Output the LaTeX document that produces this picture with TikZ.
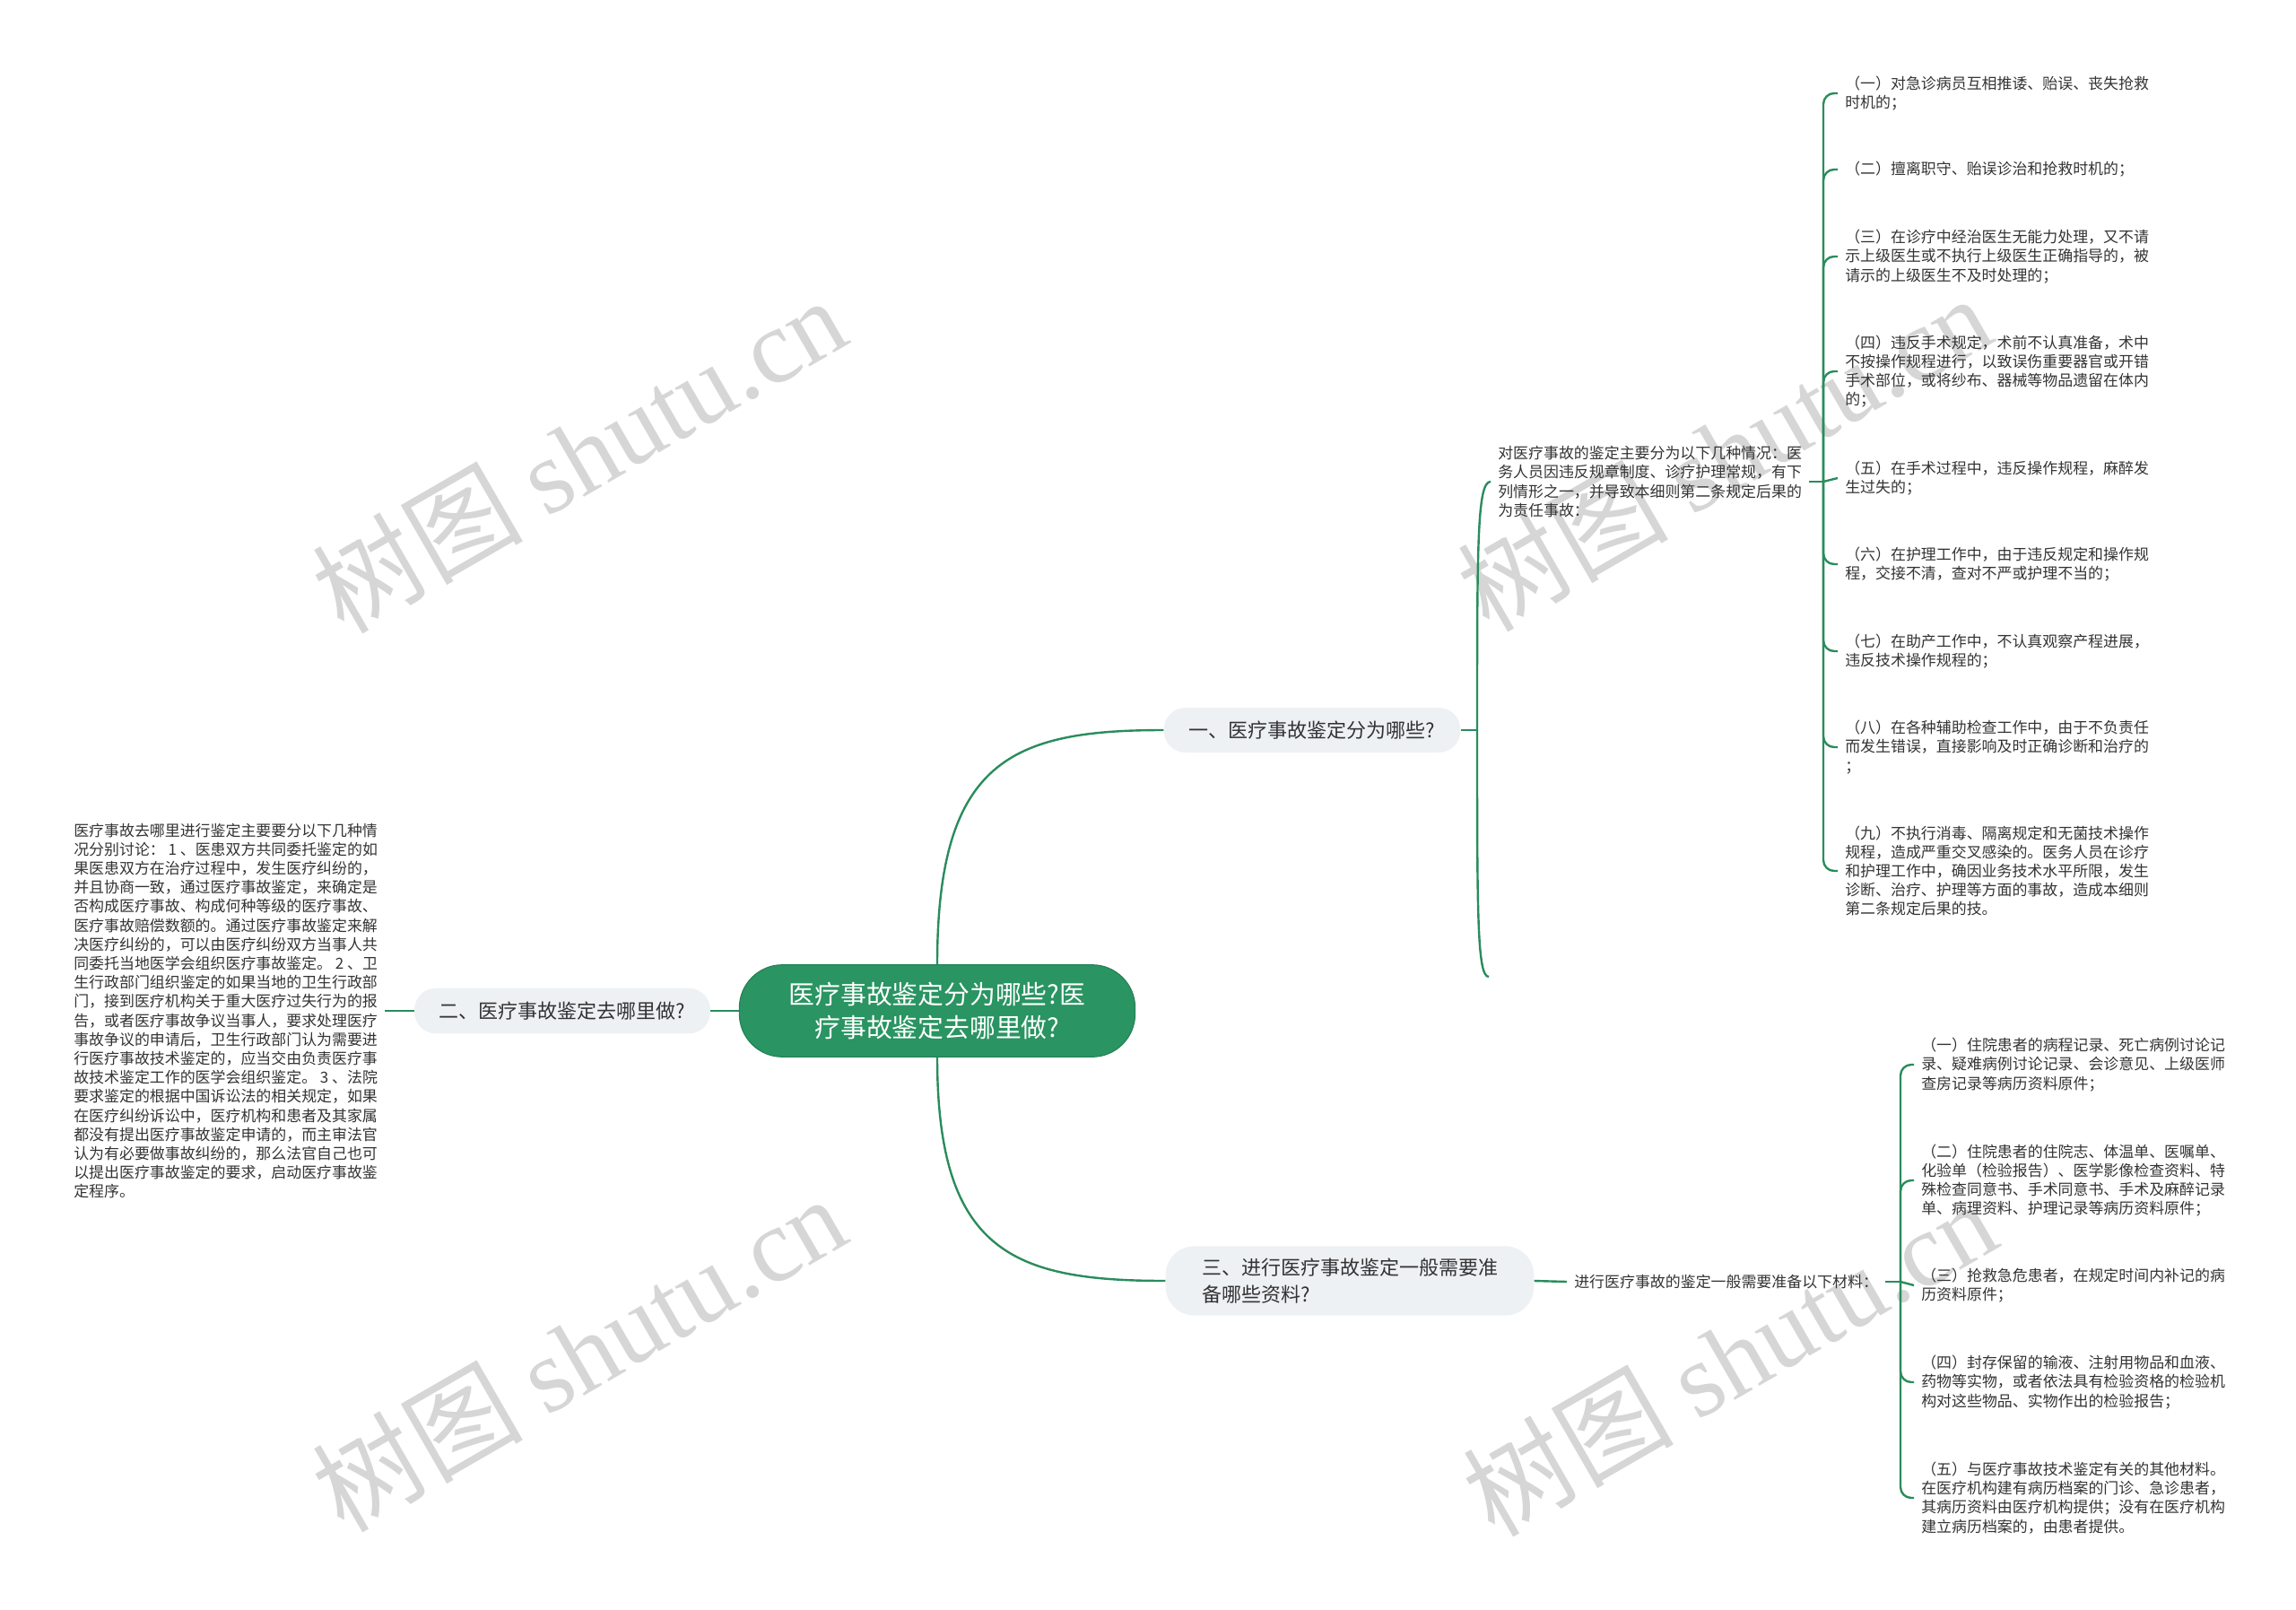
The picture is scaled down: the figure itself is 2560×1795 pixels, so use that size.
\documentclass[tikz,border=0pt]{standalone}
\usepackage{fontspec}
\setmainfont{Noto Sans CJK SC}
\newfontfamily\wmserif{Liberation Serif}
\usetikzlibrary{calc}
\definecolor{lgreen}{RGB}{42,140,92}
\definecolor{cfill}{RGB}{42,148,98}
\definecolor{cborder}{RGB}{36,128,84}
\definecolor{bfill}{RGB}{238,241,244}
\definecolor{txt}{RGB}{51,51,51}
\definecolor{wmgray}{RGB}{214,214,214}
\tikzset{
  conn/.style={draw=lgreen, line width=1.8pt},
  leaf/.style={font=\fontsize{12.7}{15.9}\selectfont, align=left, inner xsep=6pt, inner ysep=0pt, text=txt, anchor=west},
  branch/.style={fill=bfill, draw=none, font=\fontsize{16.5}{22}\selectfont, text=txt, align=left, inner sep=0pt},
  root/.style={fill=cfill, draw=cborder, line width=0.8pt, font=\fontsize{21.6}{28}\selectfont, text=white, align=center, inner sep=0pt, rounded corners=36pt, minimum width=331pt, minimum height=77pt},
  wm/.style={text=wmgray, font=\fontsize{88}{96}\selectfont, rotate=30, inner sep=0pt}
}
\begin{document}
\begin{tikzpicture}[x=0.75pt, y=-0.75pt]
\useasboundingbox (0,0) rectangle (2560,1795);
% watermarks
\node[wm] (w1) at (645,506) {树图 {\wmserif shutu.cn}};
\node[wm] (w2) at (645,1508) {树图 {\wmserif shutu.cn}};
\node[wm] (w3) at (1922,504) {树图 {\wmserif shutu.cn}};
\node[wm] (w4) at (1928,1513) {树图 {\wmserif shutu.cn}};

% root and branches
\node[root] (c) at (1045,1127) {医疗事故鉴定分为哪些?医\\疗事故鉴定去哪里做?};
\node[branch, rounded corners=18pt, minimum width=248pt, minimum height=37.5pt] (b1) at (1463,814) {一、医疗事故鉴定分为哪些?};
\node[branch, rounded corners=18pt, minimum width=247.5pt, minimum height=38pt] (b2) at (627,1127) {二、医疗事故鉴定去哪里做?};
\node[branch, rounded corners=24pt, minimum width=308pt, minimum height=58pt] (b3) at (1505,1428) {三、进行医疗事故鉴定一般需要准\\备哪些资料?};

% level 2 texts
\node[leaf] (t1) at (1662,537) {对医疗事故的鉴定主要分为以下几种情况：医\\务人员因违反规章制度、诊疗护理常规，有下\\列情形之一，并导致本细则第二条规定后果的\\为责任事故：};
\node[leaf] (t2) at (74,1127) {医疗事故去哪里进行鉴定主要要分以下几种情\\况分别讨论： 1 、医患双方共同委托鉴定的如\\果医患双方在治疗过程中，发生医疗纠纷的，\\并且协商一致，通过医疗事故鉴定，来确定是\\否构成医疗事故、构成何种等级的医疗事故、\\医疗事故赔偿数额的。通过医疗事故鉴定来解\\决医疗纠纷的，可以由医疗纠纷双方当事人共\\同委托当地医学会组织医疗事故鉴定。 2 、卫\\生行政部门组织鉴定的如果当地的卫生行政部\\门，接到医疗机构关于重大医疗过失行为的报\\告，或者医疗事故争议当事人，要求处理医疗\\事故争议的申请后，卫生行政部门认为需要进\\行医疗事故技术鉴定的，应当交由负责医疗事\\故技术鉴定工作的医学会组织鉴定。 3 、法院\\要求鉴定的根据中国诉讼法的相关规定，如果\\在医疗纠纷诉讼中，医疗机构和患者及其家属\\都没有提出医疗事故鉴定申请的，而主审法官\\认为有必要做事故纠纷的，那么法官自己也可\\以提出医疗事故鉴定的要求，启动医疗事故鉴\\定程序。};
\node[leaf] (t3) at (1747,1429) {进行医疗事故的鉴定一般需要准备以下材料：};

% top-right leaves
\node[leaf] (a1) at (2049,104) {（一）对急诊病员互相推诿、贻误、丧失抢救\\时机的；};
\node[leaf] (a2) at (2049,189) {（二）擅离职守、贻误诊治和抢救时机的；};
\node[leaf] (a3) at (2049,286) {（三）在诊疗中经治医生无能力处理，又不请\\示上级医生或不执行上级医生正确指导的，被\\请示的上级医生不及时处理的；};
\node[leaf] (a4) at (2049,414) {（四）违反手术规定，术前不认真准备，术中\\不按操作规程进行，以致误伤重要器官或开错\\手术部位，或将纱布、器械等物品遗留在体内\\的；};
\node[leaf] (a5) at (2049,533) {（五）在手术过程中，违反操作规程，麻醉发\\生过失的；};
\node[leaf] (a6) at (2049,629) {（六）在护理工作中，由于违反规定和操作规\\程，交接不清，查对不严或护理不当的；};
\node[leaf] (a7) at (2049,726) {（七）在助产工作中，不认真观察产程进展，\\违反技术操作规程的；};
\node[leaf] (a8) at (2049,833) {（八）在各种辅助检查工作中，由于不负责任\\而发生错误，直接影响及时正确诊断和治疗的\\；};
\node[leaf] (a9) at (2049,971) {（九）不执行消毒、隔离规定和无菌技术操作\\规程，造成严重交叉感染的。医务人员在诊疗\\和护理工作中，确因业务技术水平所限，发生\\诊断、治疗、护理等方面的事故，造成本细则\\第二条规定后果的技。};

% bottom-right leaves
\node[leaf] (d1) at (2134,1187) {（一）住院患者的病程记录、死亡病例讨论记\\录、疑难病例讨论记录、会诊意见、上级医师\\查房记录等病历资料原件；};
\node[leaf] (d2) at (2134,1316) {（二）住院患者的住院志、体温单、医嘱单、\\化验单（检验报告）、医学影像检查资料、特\\殊检查同意书、手术同意书、手术及麻醉记录\\单、病理资料、护理记录等病历资料原件；};
\node[leaf] (d3) at (2134,1433) {（三）抢救急危患者，在规定时间内补记的病\\历资料原件；};
\node[leaf] (d4) at (2134,1541) {（四）封存保留的输液、注射用物品和血液、\\药物等实物，或者依法具有检验资格的检验机\\构对这些物品、实物作出的检验报告；};
\node[leaf] (d5) at (2134,1670) {（五）与医疗事故技术鉴定有关的其他材料。\\在医疗机构建有病历档案的门诊、急诊患者，\\其病历资料由医疗机构提供；没有在医疗机构\\建立病历档案的，由患者提供。};

% junction coordinates
\coordinate (j1) at (1647,814);
\coordinate (e1) at (1660,1089);
\coordinate (r1) at (2033,537);
\coordinate (r3) at (2119,1429);

% root connectors
\draw[conn] (c.north) .. controls ($(c.north)!0.87!(c.north |- b1.west)$) and ($(b1.west)+(-170,0)$) .. (b1.west);
\draw[conn] (c.south) .. controls ($(c.south)!0.87!(c.south |- b3.west)$) and ($(b3.west)+(-170,0)$) .. (b3.west);
\draw[conn] (c.west) -- (b2.east);

% branch 1
\draw[conn] (b1.east) -- (j1);
\draw[conn] (j1) .. controls ($(j1)!0.75!(j1 |- t1.west)$) and (j1 |- t1.west) .. (t1.west);
\draw[conn] (j1) .. controls ($(j1)!0.75!(j1 |- e1)$) and (j1 |- e1) .. (e1);

% branch 2
\draw[conn] (b2.west) -- (t2.east);

% branch 3
\draw[conn] (b3.east) -- (t3.west);

% top-right bracket
\draw[conn] (t1.east) -- (r1);
\foreach \n in {a1,a2,a3,a4,a6,a7,a8,a9}{
  \draw[conn, rounded corners=9pt] (r1) |- (\n.west);
}
\draw[conn] (r1) -- (a5.west);

% bottom-right bracket
\draw[conn] (t3.east) -- (r3);
\foreach \n in {d1,d2,d4,d5}{
  \draw[conn, rounded corners=9pt] (r3) |- (\n.west);
}
\draw[conn] (r3) -- (d3.west);
\end{tikzpicture}
\end{document}
